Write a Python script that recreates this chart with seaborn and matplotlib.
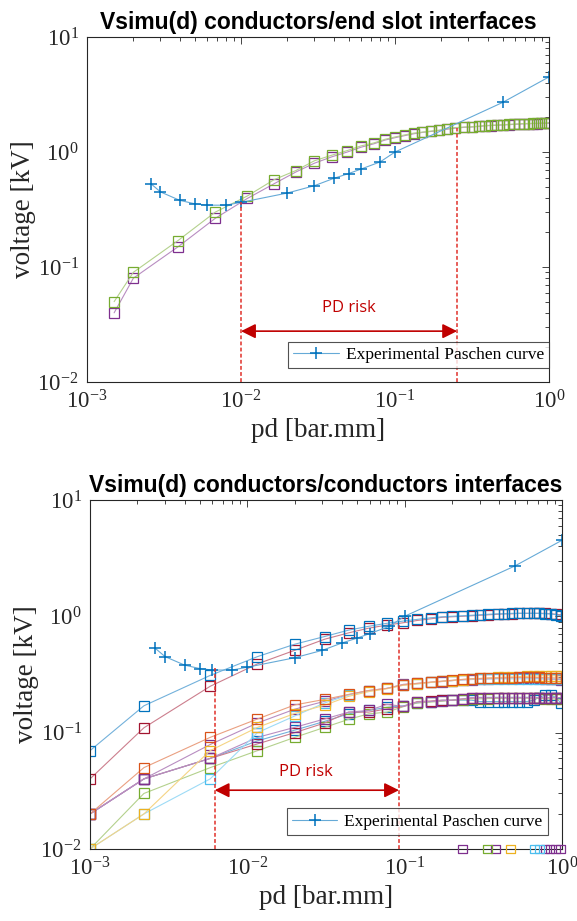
import numpy as np
import seaborn as sns
import matplotlib.pyplot as plt
from matplotlib.colors import to_rgb

# ------------------------------------------------------------------
# colours (MATLAB default colour order)
# ------------------------------------------------------------------
BLUE, ORANGE, YELLOW, PURPLE = '#0072BD', '#D95319', '#EDB120', '#7E2F8E'
GREEN, CYAN, RED = '#77AC30', '#4DBEEE', '#A2142F'
RISK = '#C00000'

# ------------------------------------------------------------------
# data
# ------------------------------------------------------------------
# experimental Paschen curve (same on both panels)
paschen_pd = [0.0026, 0.003, 0.004, 0.005, 0.006, 0.008, 0.01, 0.02, 0.03,
              0.04, 0.05, 0.06, 0.08, 0.1, 0.5, 1.0]
paschen_v = [0.53, 0.45, 0.38, 0.355, 0.345, 0.345, 0.365, 0.44, 0.51,
             0.59, 0.65, 0.71, 0.82, 1.0, 2.7, 4.5]

# top panel : conductors / end slot interfaces
top_pd = [0.0015, 0.002, 0.0039, 0.0068, 0.011, 0.0164, 0.0227, 0.030, 0.039,
          0.049, 0.06, 0.073, 0.086, 0.0995, 0.116, 0.132, 0.150, 0.171, 0.194,
          0.219, 0.244, 0.282, 0.315, 0.35, 0.384, 0.422, 0.462, 0.505, 0.547,
          0.595, 0.641, 0.689, 0.738, 0.787, 0.839, 0.891, 0.946, 1.0]
top_green = [0.05, 0.09, 0.17, 0.30, 0.415, 0.575, 0.69, 0.84, 0.94, 1.03,
             1.13, 1.2, 1.29, 1.35, 1.41, 1.46, 1.49, 1.52, 1.55, 1.6, 1.63,
             1.65, 1.66, 1.68, 1.70, 1.71, 1.72, 1.73, 1.74, 1.75, 1.76, 1.77,
             1.77, 1.78, 1.78, 1.79, 1.79, 1.8]
top_purple = [0.04, 0.08, 0.15, 0.265, 0.395, 0.53, 0.67, 0.80, 0.91, 1.0,
              1.1, 1.18, 1.27, 1.33, 1.39, 1.44, 1.48, 1.51, 1.54, 1.58, 1.61,
              1.64, 1.65, 1.67, 1.69, 1.70, 1.71, 1.72, 1.73, 1.74, 1.75, 1.76,
              1.76, 1.77, 1.77, 1.78, 1.78, 1.78]

# bottom panel : conductors / conductors interfaces
bot_pd = [0.001, 0.0022, 0.0058, 0.0116, 0.02, 0.031, 0.044, 0.059, 0.077,
          0.098, 0.12, 0.146, 0.173, 0.20, 0.234, 0.266, 0.30, 0.34, 0.39,
          0.43, 0.48, 0.53, 0.60, 0.66, 0.71, 0.78, 0.85, 0.92, 0.98]
bot_blue_hi = [0.07, 0.17, 0.31, 0.45, 0.575, 0.67, 0.76, 0.82, 0.87, 0.91,
               0.94, 0.97, 0.99, 1.0, 1.01, 1.02, 1.03, 1.04, 1.05, 1.05,
               1.06, 1.06, 1.06, 1.06, 1.06, 1.05, 1.05, 1.03, 1.01]
bot_red_hi = [0.04, 0.11, 0.25, 0.39, 0.51, 0.635, 0.72, 0.79, 0.84, 0.88,
              0.92, 0.95, 0.98, 0.99, 1.0, 1.01, 1.02, 1.03, 1.04, 1.05,
              1.05, 1.06, 1.06, 1.06, 1.06, 1.06, 1.05, 1.04, 1.03]
bot_orange = [0.02, 0.05, 0.091, 0.131, 0.173, 0.193, 0.213, 0.23, 0.24,
              0.258, 0.265, 0.272, 0.277, 0.282, 0.287, 0.29, 0.292, 0.294,
              0.295, 0.296, 0.297, 0.298, 0.298, 0.298, 0.298, 0.297, 0.296,
              0.295, 0.294]
bot_yellow = [0.01, 0.02, 0.07, 0.111, 0.146, 0.172, 0.205, 0.225, 0.238,
              0.255, 0.262, 0.27, 0.276, 0.28, 0.286, 0.29, 0.292, 0.295,
              0.298, 0.30, 0.302, 0.303, 0.305, 0.306, 0.307, 0.308, 0.308,
              0.307, 0.306]
bot_cyan = [0.01, 0.02, 0.04, 0.10, 0.139, 0.18, 0.21, 0.228, 0.24, 0.256,
            0.262, 0.27, 0.276, 0.28, 0.285, 0.288, 0.29, 0.29, 0.29, 0.29,
            0.29, 0.29, 0.29, 0.29, 0.29, 0.29, 0.29, 0.29, 0.29]
bot_purple_mid = [0.02, 0.04, 0.079, 0.121, 0.159, 0.186, 0.212, 0.23, 0.24,
                  0.26, 0.265, 0.27, 0.275, 0.28, 0.284, 0.286, 0.288, 0.29,
                  0.292, 0.294, 0.296, 0.297, 0.296, 0.294, 0.292, 0.29,
                  0.288, 0.287, 0.286]
bot_purple_lo = [0.02, 0.04, 0.06, 0.091, 0.111, 0.131, 0.15, 0.155, 0.175,
                 0.168, 0.183, 0.185, 0.188, 0.19, 0.195, 0.2, 0.2, 0.2, 0.2,
                 0.2, 0.2, 0.2, 0.2, 0.2, 0.2, 0.2, 0.2, 0.2, 0.2]
bot_red_lo = [0.02, 0.04, 0.06, 0.08, 0.10, 0.121, 0.15, 0.15, 0.16, 0.168,
              0.185, 0.187, 0.19, 0.19, 0.195, 0.198, 0.2, 0.2, 0.2, 0.2, 0.2,
              0.2, 0.2, 0.2, 0.2, 0.2, 0.2, 0.2, 0.2]
bot_green = [0.01, 0.03, 0.05, 0.07, 0.091, 0.111, 0.13, 0.145, 0.15, 0.167,
             0.18, 0.183, 0.186, 0.19, 0.192, 0.195, 0.195, 0.196, 0.197,
             0.198, 0.198, 0.198, 0.198, 0.198, 0.197, 0.196, 0.195, 0.194,
             0.193]
bot_blue_lo = [0.02, 0.04, 0.06, 0.085, 0.105, 0.125, 0.145, 0.155, 0.165,
               0.17, 0.18, 0.185, 0.19, 0.19, 0.19, 0.19, 0.185, 0.185, 0.185,
               0.185, 0.185, 0.185, 0.185, 0.19, 0.2, 0.21, 0.21, 0.2, 0.18]
# points sitting on the lower limit (10^-2)
clip_pd = [0.233, 0.336, 0.38, 0.469, 0.667, 0.717, 0.78, 0.84, 0.91, 0.975]
clip_v = [0.01] * len(clip_pd)
clip_col = [PURPLE, GREEN, PURPLE, YELLOW, CYAN, CYAN, PURPLE, PURPLE,
            PURPLE, PURPLE]

# PD risk markers: (left limit, right limit, arrow level, top of left/right dashes)
top_risk = dict(x0=0.01, x1=0.253, y=0.0277, top0=0.365, top1=1.62, tx=0.05, ty=0.044)
bot_risk = dict(x0=0.0062, x1=0.092, y=0.032, top0=0.36, top1=0.86, tx=0.0235, ty=0.046)

# ------------------------------------------------------------------
sns.set_theme(style='white')
plt.rcParams['font.family'] = ['Liberation Serif', 'DejaVu Serif']
plt.rcParams['mathtext.fontset'] = 'custom'
plt.rcParams['mathtext.rm'] = 'Liberation Serif'
plt.rcParams['axes.unicode_minus'] = False
plt.rcParams['axes.edgecolor'] = '#262626'


def light(c, f=0.45):
    r = np.array(to_rgb(c))
    return tuple(r + (1 - r) * f)


def draw_series(ax, x, y, c):
    sns.lineplot(x=x, y=y, ax=ax, color=light(c), lw=0.8, estimator=None,
                 sort=False, marker='s', markersize=7, markerfacecolor='none',
                 markeredgecolor=c, markeredgewidth=0.9)


def draw_paschen(ax):
    sns.lineplot(x=paschen_pd, y=paschen_v, ax=ax, color=light(BLUE, 0.4),
                 lw=0.8, estimator=None, sort=False, marker='+', markersize=9,
                 markeredgecolor=BLUE, markeredgewidth=1.1,
                 label='Experimental Paschen curve')


def style_axes(ax, title):
    ax.set_xscale('log')
    ax.set_yscale('log')
    ax.set_xlim(1e-3, 1)
    ax.set_ylim(1e-2, 10)
    for s in ax.spines.values():
        s.set_linewidth(0.8)
        s.set_color('#262626')
    ax.tick_params(which='both', direction='in', top=True, right=True,
                   colors='#262626', labelsize=16.5, width=0.6)
    ax.tick_params(which='major', length=5, pad=6)
    ax.tick_params(which='minor', length=3)
    ax.set_xlabel('pd [bar.mm]', fontsize=19.5, labelpad=3, color='#262626')
    ax.set_ylabel('voltage [kV]', fontsize=19.5, labelpad=1, color='#262626')
    ax.set_title(title, fontsize=16.5, fontweight='bold', pad=6, color='black',
                 family=['Liberation Sans Narrow', 'Liberation Sans'])


def draw_risk(ax, r):
    ax.plot([r['x0'], r['x0']], [1e-2, r['top0']], ls=(0, (2.5, 1.5)),
            color='#E0302A', lw=1.1, zorder=4)
    ax.plot([r['x1'], r['x1']], [1e-2, r['top1']], ls=(0, (2.5, 1.5)),
            color='#E0302A', lw=1.1, zorder=4)
    ax.annotate('', xy=(r['x1'], r['y']), xytext=(r['x0'], r['y']),
                arrowprops=dict(arrowstyle='<|-|>', color=RISK, lw=1.2,
                                mutation_scale=22, shrinkA=0, shrinkB=0))
    ax.text(r['tx'], r['ty'], 'PD risk', color=RISK, fontsize=12,
            ha='center', va='center', family=['Open Sans', 'DejaVu Sans'])


def draw_legend(ax, dx, dy):
    leg = ax.legend(loc='lower right', bbox_to_anchor=(1 - dx, dy),
                    borderaxespad=0, fontsize=12.5, handlelength=2.6,
                    frameon=True, fancybox=False, edgecolor='#262626',
                    borderpad=0.3, handletextpad=0.4, labelcolor='black')
    leg.get_frame().set_linewidth(0.8)


fig = plt.figure(figsize=(5.77, 9.21), dpi=100)
ax1 = fig.add_axes([0.1508, 0.5852, 0.8007, 0.3746])
ax2 = fig.add_axes([0.156, 0.0782, 0.818, 0.379])

# ---- top panel
draw_series(ax1, top_pd, top_purple, PURPLE)
draw_series(ax1, top_pd, top_green, GREEN)
draw_paschen(ax1)
draw_risk(ax1, top_risk)
style_axes(ax1, 'Vsimu(d) conductors/end slot interfaces')
draw_legend(ax1, 0.0, 0.04)

# ---- bottom panel
for ys, c in [(bot_blue_lo, BLUE), (bot_green, GREEN), (bot_red_lo, RED),
              (bot_purple_lo, PURPLE), (bot_purple_mid, PURPLE),
              (bot_cyan, CYAN), (bot_yellow, YELLOW), (bot_orange, ORANGE),
              (bot_red_hi, RED), (bot_blue_hi, BLUE)]:
    draw_series(ax2, bot_pd, ys, c)
for c in [PURPLE, GREEN, YELLOW, CYAN]:
    xs = [x for x, cc in zip(clip_pd, clip_col) if cc == c]
    sns.scatterplot(x=xs, y=[0.01] * len(xs), ax=ax2, marker='s', s=40,
                    facecolor='none', edgecolor=c, linewidth=0.9, zorder=5,
                    clip_on=False)
draw_paschen(ax2)
draw_risk(ax2, bot_risk)
style_axes(ax2, 'Vsimu(d) conductors/conductors interfaces')
draw_legend(ax2, 0.03, 0.04)

fig.savefig('out.png', dpi=100)
